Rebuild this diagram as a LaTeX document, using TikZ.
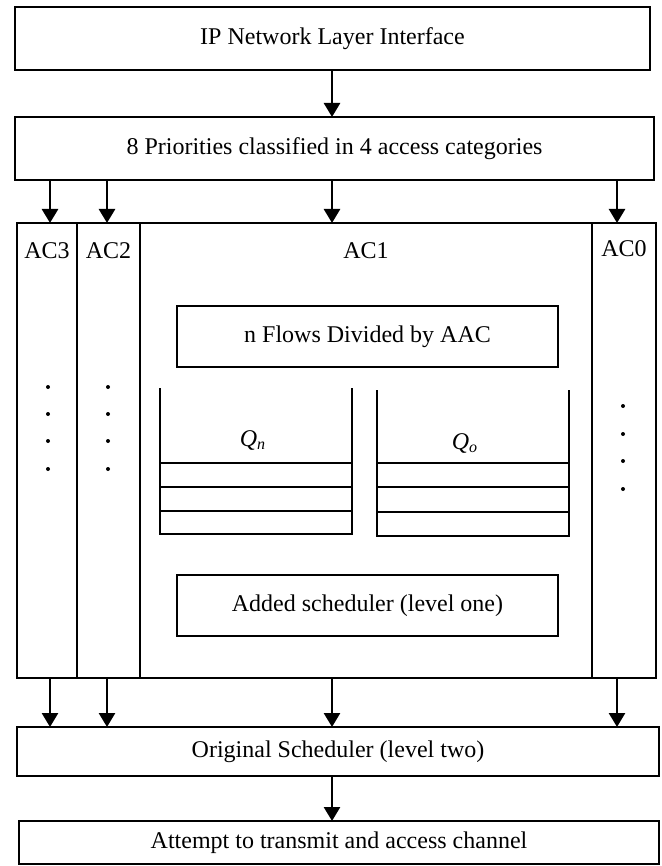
\documentclass[tikz,border=0pt]{standalone}
\usepackage{fontspec}
\setmainfont{Liberation Serif}
\usetikzlibrary{arrows.meta}

\begin{document}
\begin{tikzpicture}[x=0.5pt,y=-0.5pt,line width=1.3pt,font=\fontsize{12}{14}\selectfont] %% tikz
	\tikzstyle{blk}=[draw,rectangle,inner sep=0pt,outer sep=0pt];
	\tikzstyle{arr}=[-{Triangle[width=8pt,length=7pt]}];
	\tikzstyle{dot}=[circle,fill=black,inner sep=0pt,minimum size=2pt];
	\useasboundingbox (0,0) rectangle (662,866);
	%% top boxes
	\node[blk,minimum width=317.5pt,minimum height=31.5pt] (ip) at (332.5,38.5) {IP Network Layer Interface};
	\node[blk,minimum width=319.5pt,minimum height=31.5pt] (prio) at (334.5,148.5) {8 Priorities classified in 4 access categories};
	%% access categories
	\node[blk,minimum width=30pt,minimum height=227.5pt] (ac3) at (47,450.5) {};
	\node[blk,minimum width=31.5pt,minimum height=227.5pt] (ac2) at (108.5,450.5) {};
	\node[blk,minimum width=226pt,minimum height=227.5pt] (ac1) at (366,450.5) {};
	\node[blk,minimum width=32pt,minimum height=227.5pt] (ac0) at (624,450.5) {};
	\node (l3) at (47,251) {AC3};
	\node (l2) at (108.5,251) {AC2};
	\node (l1) at (366,251) {AC1};
	\node (l0) at (624,249) {AC0};
	\foreach \y in {387,414,441,469} {\node[dot] (da\y) at (48,\y) {}; \node[dot] (db\y) at (108,\y) {};}
	\foreach \y in {406,434,461,489} \node[dot] (dc\y) at (623,\y) {};
	%% inside AC1
	\node[blk,minimum width=190.5pt,minimum height=30.5pt] (flows) at (367.5,336.5) {n Flows Divided by AAC};
	\node[blk,minimum width=190.5pt,minimum height=30.5pt] (added) at (367.5,605.5) {Added scheduler (level one)};
	\draw (160,388) -- (160,534) -- (352,534) -- (352,388);
	\foreach \y in {463,487,511} \draw (160,\y) -- (352,\y);
	\draw (377,390) -- (377,536) -- (569,536) -- (569,390);
	\foreach \y in {463,487,512} \draw (377,\y) -- (569,\y);
	\node (qn) at (253,440) {\textit{Q}\textsubscript{\textit{n}}};
	\node (qo) at (465,443) {\textit{Q}\textsubscript{\textit{o}}};
	%% bottom boxes
	\node[blk,minimum width=321pt,minimum height=24.5pt] (sched) at (338,751.5) {Original Scheduler (level two)};
	\node[blk,minimum width=320pt,minimum height=21.5pt] (try) at (339,842.5) {Attempt to transmit and access channel};
	%% arrows
	\coordinate (x3) at (50,0);
	\coordinate (x2) at (107,0);
	\coordinate (x1) at (332,0);
	\coordinate (x0) at (617,0);
	\draw[arr] (ip.south -| x1) -- (prio.north -| x1);
	\foreach \c/\n in {x3/ac3,x2/ac2,x1/ac1,x0/ac0} {
		\draw[arr] (prio.south -| \c) -- (\n.north -| \c);
		\draw[arr] (\n.south -| \c) -- (sched.north -| \c);
	}
	\draw[arr] (sched.south -| x1) -- (try.north -| x1);
\end{tikzpicture}
\end{document}
